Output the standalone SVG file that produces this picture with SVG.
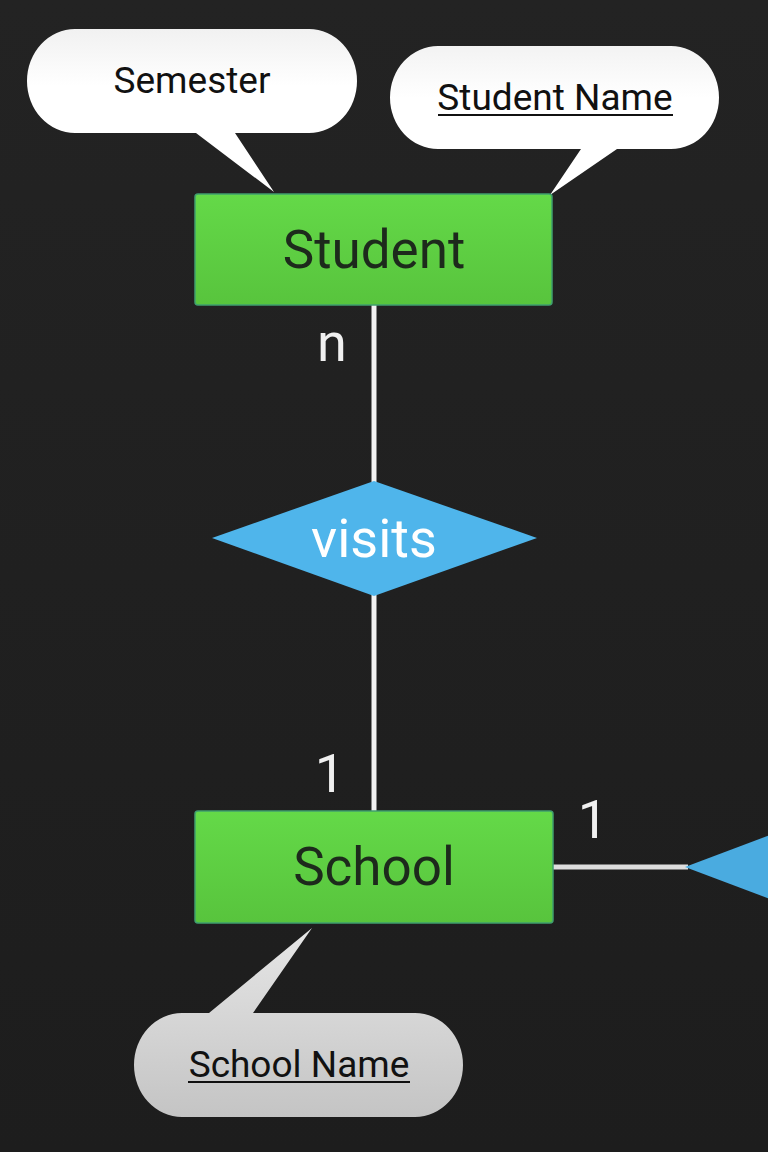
<svg xmlns="http://www.w3.org/2000/svg" width="768" height="1152" viewBox="0 0 768 1152">
<defs>
<linearGradient id="bg" x1="0" y1="0" x2="0" y2="1"><stop offset="0" stop-color="#232323"/><stop offset="1" stop-color="#1d1d1d"/></linearGradient>
<linearGradient id="ent" x1="0" y1="0" x2="0" y2="1"><stop offset="0" stop-color="#64d948"/><stop offset="1" stop-color="#58c43d"/></linearGradient>
<linearGradient id="wb1" gradientUnits="userSpaceOnUse" x1="0" y1="29" x2="0" y2="192"><stop offset="0" stop-color="#f1f1f1"/><stop offset="0.35" stop-color="#ffffff"/><stop offset="1" stop-color="#ffffff"/></linearGradient>
<linearGradient id="wb2" gradientUnits="userSpaceOnUse" x1="0" y1="46" x2="0" y2="195"><stop offset="0" stop-color="#f3f3f3"/><stop offset="0.35" stop-color="#ffffff"/><stop offset="1" stop-color="#ffffff"/></linearGradient>
<linearGradient id="gb" gradientUnits="userSpaceOnUse" x1="0" y1="928" x2="0" y2="1117"><stop offset="0" stop-color="#e6e6e6"/><stop offset="1" stop-color="#c4c4c4"/></linearGradient>
</defs>
<style>
.ent{stroke:#3f9f6e;stroke-width:1.5}
.etxt{font-family:Roboto,"Liberation Sans",sans-serif;font-size:53px;fill:#1d2a1c;text-anchor:middle}
.rel{fill:#4fb5eb}
.rel2{fill:#4aabe0}
.rtxt{font-family:Roboto,"Liberation Sans",sans-serif;font-size:54px;fill:#ffffff;text-anchor:middle}
.btxt{font-family:Roboto,"Liberation Sans",sans-serif;font-size:37px;fill:#111111;text-anchor:middle}
.ul{stroke:#111111;stroke-width:2}
.conn{stroke:#f2f2f2;stroke-width:5;fill:none}
.lbl{font-family:Roboto,"Liberation Sans",sans-serif;font-size:54px;fill:#f0f0f0;text-anchor:middle}
</style>
<rect x="0" y="0" width="768" height="1152" fill="url(#bg)"/>

<g id="connectors">
<line class="conn" x1="374" y1="305" x2="374" y2="482"/>
<line class="conn" x1="374" y1="594" x2="374" y2="811"/>
<line class="conn" x1="553" y1="867" x2="688" y2="867" style="stroke:#dddddd"/>
<text class="lbl" x="332" y="361">n</text>
<text class="lbl" x="330" y="792">1</text>
<text class="lbl" x="593" y="838">1</text>
</g>

<g id="semester">
<path fill="url(#wb1)" d="M 75 29 H 309 A 48 52 0 0 1 357 81 A 48 52 0 0 1 309 133 H 235 L 274 192 L 196 133 H 75 A 48 52 0 0 1 27 81 A 48 52 0 0 1 75 29 Z"/>
<text class="btxt" x="192" y="93">Semester</text>
</g>

<g id="student-name">
<path fill="url(#wb2)" d="M 438 46 H 671 A 48 51.5 0 0 1 719 97.5 A 48 51.5 0 0 1 671 149 H 617 L 550 195 L 581 149 H 438 A 48 51.5 0 0 1 390 97.5 A 48 51.5 0 0 1 438 46 Z"/>
<text class="btxt" x="555" y="110">Student Name</text>
<line class="ul" x1="438" y1="115" x2="673" y2="115"/>
</g>

<g id="student">
<rect class="ent" x="195" y="194" width="357" height="111" rx="3" fill="url(#ent)"/>
<text class="etxt" x="374" y="268">Student</text>
</g>

<g id="visits">
<polygon class="rel" points="374,481 537,538 374,596 212,538"/>
<text class="rtxt" x="374" y="557">visits</text>
</g>

<g id="school">
<rect class="ent" x="195" y="811" width="358" height="112" rx="3" fill="url(#ent)"/>
<text class="etxt" x="374" y="885">School</text>
</g>

<g id="school-name">
<path fill="url(#gb)" d="M 182 1013 H 209 L 312 928 L 253 1013 H 415 A 48 52 0 0 1 463 1065 A 48 52 0 0 1 415 1117 H 182 A 48 52 0 0 1 134 1065 A 48 52 0 0 1 182 1013 Z"/>
<text class="btxt" x="299" y="1077">School Name</text>
<line class="ul" x1="188" y1="1082" x2="410" y2="1082"/>
</g>

<g id="relationship-right">
<polygon class="rel2" points="685,867 847,806 1010,867 847,928"/>
</g>
</svg>
